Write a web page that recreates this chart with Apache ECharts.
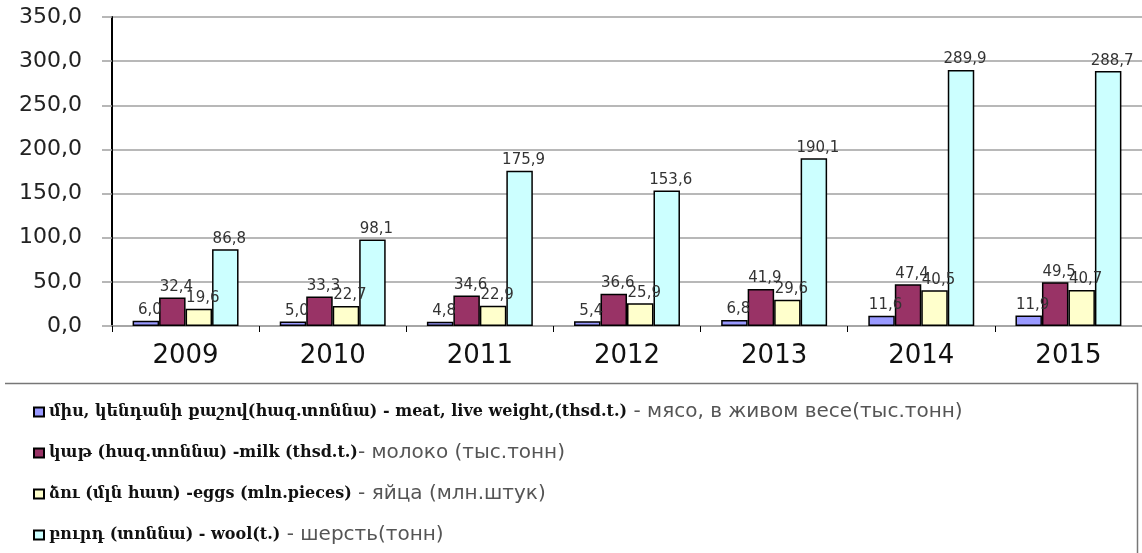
<!DOCTYPE html>
<html>
<head>
<meta charset="utf-8">
<script src="https://cdn.jsdelivr.net/npm/echarts@6/dist/echarts.min.js"></script>
<style>
html,body{margin:0;padding:0;background:#fff;}
#chart{width:1142px;height:553px;}
</style>
</head>
<body>
<div id="chart"></div>
<script>
// ---- data ----
const years = ['2009', '2010', '2011', '2012', '2013', '2014', '2015'];
const meat = [6.0, 5.0, 4.8, 5.4, 6.8, 11.6, 11.9];
const milk = [32.4, 33.3, 34.6, 36.6, 41.9, 47.4, 49.5];
const eggs = [19.6, 22.7, 22.9, 25.9, 29.6, 40.5, 40.7];
const wool = [86.8, 98.1, 175.9, 153.6, 190.1, 289.9, 288.7];
const yMin = 0, yMax = 350, yStep = 50;

const namesMain = [
  'միս, կենդանի քաշով(հազ.տոննա) - meat, live weight,(thsd.t.)',
  'կաթ (հազ.տոննա) -milk (thsd.t.)',
  'ձու (մլն հատ) -eggs (mln.pieces)',
  'բուրդ (տոննա) - wool(t.)'
];
const namesRu = [
  ' - мясо, в живом весе(тыс.тонн)',
  '- молоко (тыс.тонн)',
  ' - яйца (млн.штук)',
  ' - шерсть(тонн)'
];
const colors = ['#9999FF', '#993366', '#FFFFCC', '#CCFFFF'];
const seriesData = [meat, milk, eggs, wool];

const fmt = v => Number(v).toFixed(1).replace('.', ',');
const fullNames = namesMain.map((m, i) => m + namesRu[i]);

const chart = echarts.init(document.getElementById('chart'));
const option = {
  animation: false,
  backgroundColor: '#fff',
  grid: { left: 112, top: 17, width: 1033, bottom: 227 },
  xAxis: {
    type: 'category',
    data: years,
    axisLine: { lineStyle: { color: '#a0a0a0', width: 1.5 } },
    axisTick: { show: true, length: 6, lineStyle: { color: '#000', width: 1 } },
    axisLabel: { margin: 17, fontFamily: 'DejaVu Sans', fontSize: 26, color: '#111' }
  },
  yAxis: {
    type: 'value',
    min: yMin, max: yMax, interval: yStep,
    axisLine: { show: true, lineStyle: { color: '#000', width: 2 } },
    axisTick: { show: true, length: 10, lineStyle: { color: '#a0a0a0', width: 1.5 } },
    splitLine: { lineStyle: { color: '#a0a0a0', width: 1.5 } },
    axisLabel: { margin: 30, fontFamily: 'DejaVu Sans', fontSize: 22, color: '#222', formatter: v => fmt(v) }
  },
  legend: {
    orient: 'vertical',
    left: 33, top: 402,
    padding: 0,
    height: 200,
    itemWidth: 10, itemHeight: 9,
    itemGap: 21,
    icon: 'rect',
    data: fullNames,
    formatter: name => {
      const i = fullNames.indexOf(name);
      return '{b|' + namesMain[i] + '}{r|' + namesRu[i] + '}';
    },
    textStyle: {
      lineHeight: 17,
      rich: {
        b: { fontFamily: 'DejaVu Serif', fontWeight: 'bold', fontSize: 16, color: '#111', lineHeight: 17 },
        r: { fontFamily: 'DejaVu Sans', fontSize: 20, color: '#555', lineHeight: 17 }
      }
    }
  },
  graphic: [{
    type: 'polyline',
    silent: true,
    shape: { points: [[5, 383.5], [1137.5, 383.5], [1137.5, 553]] },
    style: { stroke: '#777', lineWidth: 1.5, fill: null }
  }],
  series: seriesData.map((d, i) => ({
    name: fullNames[i],
    type: 'bar',
    data: d,
    barGap: '0%',
    barCategoryGap: '28%',
    itemStyle: { color: colors[i], borderColor: '#000', borderWidth: 1.5 },
    label: {
      show: true, position: 'top', distance: 3, offset: [4, 0],
      fontFamily: 'DejaVu Sans', fontSize: 15, color: '#333',
      formatter: p => fmt(p.value)
    }
  }))
};
chart.setOption(option);
</script>
</body>
</html>
